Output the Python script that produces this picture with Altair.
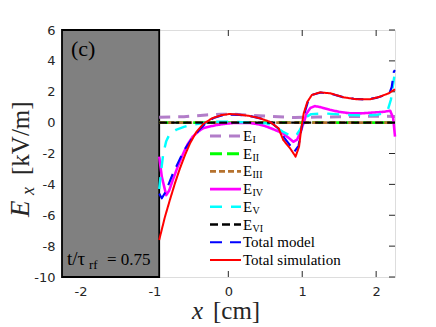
import altair as alt
import pandas as pd

# ---------------- data ----------------
series_names = ["E_I", "E_II", "E_III", "E_IV", "E_V", "E_VI", "Total model", "Total simulation"]
series_colors = ["#B27DC9", "#00FF00", "#B5722E", "#FF00FF", "#00FFFF", "#000000", "#0000FF", "#FF0000"]
series_dash = [[11, 8], [12, 5], [6, 3], [1, 0], [12, 9], [8, 4], [12, 8], [1, 0]]
series_width = [3, 2, 2, 2.2, 3.2, 2.5, 2.6, 2.9]
legend_main = ["E", "E", "E", "E", "E", "E", "Total model", "Total simulation"]
legend_sub = ["I", "II", "III", "IV", "V", "VI", "", ""]

x_ticks = [-2, -1, 0, 1, 2]
y_ticks = [-10, -8, -6, -4, -2, 0, 2, 4, 6]
x_domain = [-2.25, 2.255]
y_domain = [-10, 6]
wall_x = [-2.25, -0.935]

x_e1 = [-0.935, -0.6, -0.3, -0.1, 0.05, 0.3, 0.6, 0.9, 1.2, 1.5, 1.8, 2.1, 2.255]
y_e1 = [0.35, 0.38, 0.5, 0.55, 0.55, 0.47, 0.4, 0.33, 0.36, 0.38, 0.4, 0.42, 0.4]

x_e2 = [-0.935, 2.255]
y_e2 = [0.0, 0.0]
x_e3 = [-0.935, 2.255]
y_e3 = [0.0, 0.0]
x_e6 = [-0.935, 2.255]
y_e6 = [0.0, 0.0]

x_e4 = [-0.935, -0.9, -0.84, -0.8, -0.75, -0.68, -0.61, -0.55, -0.48, -0.4, -0.34, -0.25, -0.16,
        -0.05, 0.06, 0.2, 0.3, 0.42, 0.52, 0.62, 0.74, 0.82, 0.88, 0.93, 0.97, 1.02, 1.06, 1.11,
        1.17, 1.25, 1.38, 1.5, 1.65, 1.8, 1.95, 2.1, 2.19, 2.23, 2.255]
y_e4 = [-2.2, -3.5, -4.7, -4.4, -3.7, -2.8, -2.0, -1.4, -0.9, -0.55, -0.36, -0.25, -0.16,
        -0.08, -0.03, -0.02, -0.03, -0.12, -0.26, -0.45, -0.7, -1.0, -1.24, -1.1, -0.7, 0.0, 0.6, 0.95,
        1.07, 1.0, 0.82, 0.7, 0.6, 0.6, 0.65, 0.7, 0.77, 0.3, -0.9]

x_e5 = [-0.935, -0.91, -0.88, -0.84, -0.8, -0.75, -0.7, -0.6, -0.5, -0.35, -0.2, -0.1, 0.05, 0.2,
        0.35, 0.52, 0.64, 0.74, 0.82, 0.88, 0.93, 0.97, 1.02, 1.06, 1.12, 1.29, 1.45, 1.65, 1.85,
        2.0, 2.1, 2.16, 2.2, 2.23, 2.255]
y_e5 = [-4.3, -3.2, -2.0, -1.2, -0.8, -0.6, -0.45, -0.28, -0.14, -0.03, 0.05, 0.06, 0.05, 0.02,
        0.0, -0.05, -0.3, -0.59, -0.8, -0.9, -0.75, -0.45, 0.0, 0.38, 0.55, 0.6, 0.55, 0.49, 0.47,
        0.49, 0.6, 0.85, 1.5, 2.5, 3.3]

x_model = [-0.935, -0.9, -0.85, -0.8, -0.75, -0.7, -0.65, -0.6, -0.5, -0.4, -0.3, -0.2, -0.1, 0.0,
           0.15, 0.3, 0.45, 0.58, 0.68, 0.76, 0.84, 0.89, 0.95, 0.99, 1.03, 1.08, 1.14, 1.25, 1.4,
           1.55, 1.7, 1.85, 2.0, 2.1, 2.18, 2.21, 2.24, 2.255]
y_model = [-4.6, -4.9, -4.5, -3.9, -3.3, -2.8, -2.3, -1.8, -1.1, -0.5, 0.0, 0.3, 0.45, 0.52,
           0.5, 0.42, 0.25, 0.0, -0.4, -1.0, -1.5, -1.9, -1.5, -0.4, 0.6, 1.4, 1.8, 1.95, 1.85,
           1.65, 1.55, 1.5, 1.6, 1.75, 1.9, 2.3, 3.3, 3.4]

x_sim = [-0.935, -0.857, -0.79, -0.72, -0.654, -0.586, -0.518, -0.43, -0.34, -0.22, -0.09, 0.02,
         0.16, 0.29, 0.43, 0.56, 0.68, 0.744, 0.835, 0.91, 0.957, 0.99, 1.02, 1.07, 1.13, 1.24,
         1.38, 1.56, 1.74, 1.92, 2.05, 2.17, 2.255]
y_sim = [-7.6, -6.1, -5.0, -3.9, -2.96, -2.1, -1.34, -0.59, -0.09, 0.28, 0.49, 0.56,
         0.51, 0.43, 0.28, 0.06, -0.37, -1.13, -1.66, -2.2, -1.56, -0.27, 0.6, 1.35, 1.79, 1.96,
         1.9, 1.64, 1.51, 1.51, 1.68, 1.9, 2.16]

series_x = [x_e1, x_e2, x_e3, x_e4, x_e5, x_e6, x_model, x_sim]
series_y = [y_e1, y_e2, y_e3, y_e4, y_e5, y_e6, y_model, y_sim]

# ---------------- layout ----------------
W, H = 333, 247
FRAME = "#262626"
SERIF = "Liberation Serif"

rows = []
for name, xs, ys in zip(series_names, series_x, series_y):
    for i, (xv, yv) in enumerate(zip(xs, ys)):
        rows.append({"x": xv, "y": yv, "series": name, "i": i})
df = pd.DataFrame(rows)

xscale = alt.Scale(domain=x_domain, nice=False, zero=False)
yscale = alt.Scale(domain=y_domain, nice=False, zero=False)
MINUS_FIX = "replace(datum.label, '\u2212', '-')"
xaxis = alt.Axis(values=x_ticks, ticks=False, domain=False, grid=False, labelPadding=8,
                 labelFont="DejaVu Sans", labelFontSize=13, labelColor=FRAME, title=None,
                 labelExpr=MINUS_FIX)
yaxis = alt.Axis(values=y_ticks, ticks=False, domain=False, grid=False, labelPadding=7,
                 labelFont="DejaVu Sans", labelFontSize=13, labelColor=FRAME, title=None,
                 labelExpr=MINUS_FIX)

color = alt.Color("series:N", scale=alt.Scale(domain=series_names, range=series_colors), legend=None)
dash = alt.StrokeDash("series:N", scale=alt.Scale(domain=series_names, range=series_dash), legend=None)
swidth = alt.StrokeWidth("series:N", scale=alt.Scale(domain=series_names, range=series_width), legend=None)

# inward ticks
xt = pd.DataFrame({"xt": x_ticks})
yt = pd.DataFrame({"yt": y_ticks})
tick_top = alt.Chart(xt).mark_rule(color=FRAME, strokeWidth=1).encode(
    x=alt.X("xt:Q", scale=xscale, axis=xaxis), y=alt.value(0), y2=alt.value(6))
tick_bot = alt.Chart(xt).mark_rule(color=FRAME, strokeWidth=1).encode(
    x=alt.X("xt:Q", scale=xscale, axis=xaxis), y=alt.value(H), y2=alt.value(H - 6))
tick_right = alt.Chart(yt).mark_rule(color=FRAME, strokeWidth=1).encode(
    y=alt.Y("yt:Q", scale=yscale, axis=yaxis), x=alt.value(W), x2=alt.value(W - 6))

# gray wall
wall = alt.Chart(pd.DataFrame({"x0": [wall_x[0]], "x1": [wall_x[1]],
                               "y0": [y_domain[0]], "y1": [y_domain[1]]})).mark_rect(
    fill="#808080", stroke="#000000", strokeWidth=1.8).encode(
    x=alt.X("x0:Q", scale=xscale, axis=xaxis), x2="x1:Q",
    y=alt.Y("y0:Q", scale=yscale, axis=yaxis), y2="y1:Q")

# curves, one layer per series for draw order
curve_layers = []
for name in series_names:
    curve_layers.append(
        alt.Chart(df).transform_filter(alt.datum.series == name).mark_line(
            strokeCap="butt", strokeJoin="round").encode(
            x=alt.X("x:Q", scale=xscale, axis=xaxis),
            y=alt.Y("y:Q", scale=yscale, axis=yaxis),
            color=color, strokeDash=dash, strokeWidth=swidth, order="i:Q"))

# legend (manual, for subscripts)
row0, rowstep = 106.0, 17.7
leg = pd.DataFrame({
    "series": series_names,
    "main": legend_main,
    "sub": legend_sub,
    "ly": [y_domain[1] - (row0 + k * rowstep) * (y_domain[1] - y_domain[0]) / H
           for k in range(len(series_names))],
})
leg_rule = alt.Chart(leg).mark_rule(strokeCap="butt").encode(
    x=alt.value(148), x2=alt.value(179),
    y=alt.Y("ly:Q", scale=yscale, axis=yaxis),
    color=color, strokeDash=dash, strokeWidth=swidth)
leg_main = alt.Chart(leg).mark_text(align="left", baseline="middle", font=SERIF,
                                     fontSize=15, color="#000000").encode(
    x=alt.value(181), y=alt.Y("ly:Q", scale=yscale, axis=yaxis), text="main:N")
leg_sub = alt.Chart(leg).mark_text(align="left", baseline="middle", font=SERIF,
                                    fontSize=10, dy=4, color="#000000").encode(
    x=alt.value(190.5), y=alt.Y("ly:Q", scale=yscale, axis=yaxis), text="sub:N")

one = pd.DataFrame({"k": [0]})


def label(txt, px, py, size, style="normal", angle=0, color="#000000"):
    return alt.Chart(one).mark_text(align="left", baseline="alphabetic", font=SERIF,
                                    fontSize=size, fontStyle=style, angle=angle,
                                    color=color).encode(
        x=alt.value(px), y=alt.value(py), text=alt.value(txt))


texts = [
    label("(c)", 9, 26, 22),
    label("t/τ", 5, 235, 19),
    label("rf", 27, 239, 13),
    label("= 0.75", 45, 235, 17),
    # x title
    label("x", 130, 289, 25, style="italic", color=FRAME),
    label("[cm]", 151, 289, 25, color=FRAME),
    # y title (rotated)
    label("E", -33, 187, 27, style="italic", angle=270, color=FRAME),
    label("x", -28, 165, 18, style="italic", angle=270, color=FRAME),
    label("[kV/m]", -33, 145, 25, angle=270, color=FRAME),
]

chart = alt.layer(
    tick_top, tick_bot, tick_right, wall, *curve_layers, leg_rule, leg_main, leg_sub, *texts
).properties(
    width=W, height=H, autosize="none",
    padding={"left": 54, "top": 22, "right": 25, "bottom": 48},
).configure_view(stroke=FRAME, strokeWidth=1.8).configure(background="white")

chart.save("out.html", embed_options={"renderer": "svg", "actions": False})
